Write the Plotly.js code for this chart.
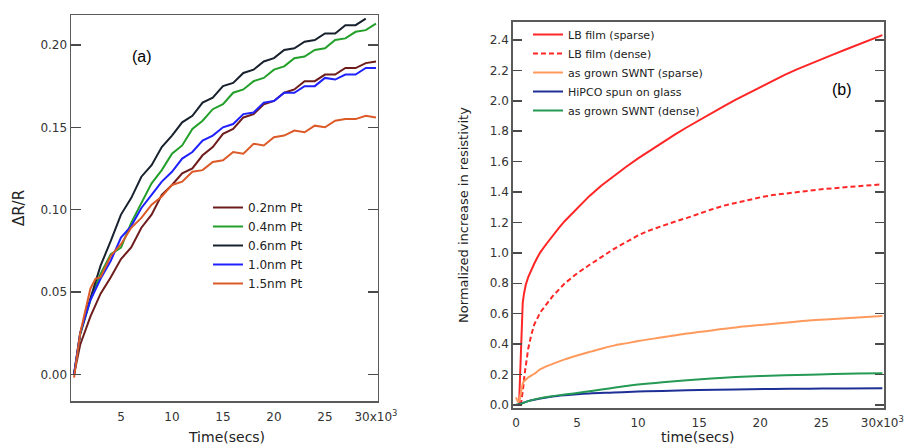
<!DOCTYPE html>
<html>
<head>
<meta charset="utf-8">
<script src="https://cdn.plot.ly/plotly-3.0.1.min.js"></script>
<style>html,body{margin:0;padding:0;background:#fff;}#chart{width:911px;height:446px;}</style>
</head>
<body>
<div id="chart"></div>
<script>
// ---------- Panel (a): ΔR/R vs time ----------
const timeA = [400,1000,2000,3000,4000,5000,6000,7000,8000,9000,10000,11000,12000,13000,14000,15000,16000,17000,18000,19000,20000,21000,22000,23000,24000,25000,26000,27000,28000,29000,30000];
const timeA06 = [400,1000,2000,3000,4000,5000,6000,7000,8000,9000,10000,11000,12000,13000,14000,15000,16000,17000,18000,19000,20000,21000,22000,23000,24000,25000,26000,27000,28000,29000];
const timeA15 = [400,1000,2000,2500,3000,4000,5000,6000,7000,8000,9000,10000,11000,12000,13000,14000,15000,16000,17000,18000,19000,20000,21000,22000,23000,24000,25000,26000,27000,28000,29000,30000];
const pt02 = [0.000,0.018,0.035,0.049,0.059,0.070,0.077,0.089,0.097,0.109,0.115,0.122,0.125,0.133,0.138,0.146,0.149,0.156,0.158,0.164,0.166,0.171,0.173,0.178,0.178,0.182,0.182,0.186,0.186,0.189,0.190];
const pt04 = [0.000,0.024,0.045,0.061,0.073,0.077,0.092,0.104,0.116,0.124,0.134,0.139,0.149,0.154,0.161,0.164,0.171,0.173,0.178,0.180,0.185,0.187,0.192,0.193,0.197,0.198,0.203,0.204,0.208,0.209,0.213];
const pt06 = [0.000,0.025,0.046,0.066,0.081,0.097,0.107,0.120,0.127,0.138,0.145,0.153,0.157,0.165,0.168,0.175,0.177,0.183,0.185,0.190,0.192,0.197,0.198,0.202,0.203,0.207,0.207,0.212,0.212,0.216];
const pt10 = [0.000,0.025,0.045,0.058,0.069,0.083,0.090,0.101,0.109,0.117,0.123,0.131,0.135,0.142,0.145,0.150,0.152,0.158,0.159,0.165,0.166,0.171,0.171,0.175,0.175,0.180,0.179,0.182,0.182,0.186,0.186];
const pt15 = [-0.002,0.025,0.052,0.058,0.059,0.072,0.079,0.089,0.095,0.103,0.108,0.115,0.117,0.123,0.124,0.129,0.130,0.135,0.134,0.140,0.139,0.144,0.145,0.148,0.147,0.151,0.150,0.154,0.155,0.155,0.157,0.156];
const namesA = ["0.2nm Pt","0.4nm Pt","0.6nm Pt","1.0nm Pt","1.5nm Pt"];
const xTickValsA = [5000,10000,15000,20000,25000,30000];
const xTickTextA = ["5","10","15","20","25","30x10<sup>3</sup>"];
const yTickValsA = [0,0.05,0.10,0.15,0.20];
const yTickTextA = ["0.00","0.05","0.10","0.15","0.20"];

// ---------- Panel (b): normalized resistivity increase ----------
const tRedSparse = [250,300,350,400,460,550,650,800,1000,1250,1500,1750,2000,2500,3000,3500,4000,5000,6000,7000,8000,9000,10000,11000,12000,13000,14000,15000,16000,17000,18000,19000,20000,21000,22000,23000,24000,25000,26000,27000,28000,29000,30000];
const redSparse = [0.00,0.12,0.30,0.45,0.58,0.67,0.73,0.79,0.84,0.89,0.93,0.97,1.005,1.06,1.113,1.162,1.21,1.293,1.373,1.443,1.505,1.565,1.621,1.675,1.727,1.778,1.826,1.873,1.919,1.964,2.008,2.05,2.09,2.131,2.171,2.207,2.241,2.273,2.305,2.337,2.368,2.40,2.432];
const tRedDense = [400,500,600,700,800,1000,1250,1500,2000,3000,4000,5000,6000,7000,8000,9000,10000,11000,12000,13000,14000,15000,16000,17000,18000,19000,20000,21000,22000,23000,24000,25000,26000,27000,28000,29000,29800];
const redDense = [0.00,0.05,0.12,0.20,0.27,0.37,0.46,0.53,0.61,0.715,0.80,0.865,0.92,0.975,1.025,1.07,1.115,1.15,1.18,1.205,1.23,1.26,1.285,1.31,1.33,1.35,1.365,1.38,1.39,1.40,1.41,1.418,1.425,1.432,1.438,1.444,1.45];
const tOrange = [0,200,400,600,1000,1500,2000,3000,4000,5000,6000,7000,8000,9000,10000,12000,14000,16000,18000,20000,22000,24000,26000,28000,30000];
const orangeSparse = [0.05,0.02,0.08,0.15,0.18,0.205,0.235,0.27,0.30,0.325,0.348,0.37,0.39,0.405,0.42,0.445,0.47,0.49,0.51,0.525,0.54,0.555,0.565,0.575,0.585];
const tHipco = [0,500,1000,2000,3000,4000,5000,6000,8000,10000,12000,15000,18000,21000,24000,27000,30000];
const hipco = [0.0,0.012,0.025,0.042,0.055,0.064,0.071,0.076,0.082,0.088,0.092,0.098,0.102,0.105,0.107,0.109,0.110];
const tGreenDense = [0,500,1000,2000,3000,4000,5000,6000,7000,8000,9000,10000,12000,14000,16000,18000,20000,22000,24000,26000,28000,30000];
const greenDense = [0,0.010,0.025,0.045,0.058,0.068,0.078,0.090,0.102,0.113,0.124,0.134,0.150,0.163,0.174,0.183,0.190,0.195,0.199,0.203,0.206,0.208];
const namesB = ["LB film (sparse)","LB film (dense)","as grown SWNT (sparse)","HiPCO spun on glass","as grown SWNT (dense)"];
const xTickValsB = [0,5000,10000,15000,20000,25000,30000];
const xTickTextB = ["0","5","10","15","20","25","30x10<sup>3</sup>"];
const yTickValsB = [0,0.2,0.4,0.6,0.8,1.0,1.2,1.4,1.6,1.8,2.0,2.2,2.4];
const yTickTextB = ["0.0","0.2","0.4","0.6","0.8","1.0","1.2","1.4","1.6","1.8","2.0","2.2","2.4"];

const W = 911, H = 446;
const px = v => v / W, py = v => 1 - v / H;

function line(x, y, name, color, legend, dash, shape) {
  const tr = {x: x, y: y, name: name, type: 'scatter', mode: 'lines',
    line: {color: color, width: 2, dash: dash || 'solid', shape: shape || 'linear'}};
  if (legend === 2) { tr.xaxis = 'x2'; tr.yaxis = 'y2'; tr.legend = 'legend2'; }
  return tr;
}

const data = [
  line(timeA, pt02, namesA[0], '#6e1c1c', 1),
  line(timeA, pt04, namesA[1], '#22a02a', 1),
  line(timeA06, pt06, namesA[2], '#18222e', 1),
  line(timeA, pt10, namesA[3], '#1f22ff', 1),
  line(timeA15, pt15, namesA[4], '#dc5a28', 1),
  line(tRedSparse, redSparse, namesB[0], '#ff2626', 2, 'solid'),
  line(tRedDense, redDense, namesB[1], '#ff2626', 2, '5px,3px'),
  line(tOrange, orangeSparse, namesB[2], '#ff9a5c', 2, 'solid', 'spline'),
  line(tHipco, hipco, namesB[3], '#1e2f96', 2, 'solid', 'spline'),
  line(tGreenDense, greenDense, namesB[4], '#249a55', 2, 'solid', 'spline')
];

const axisCommon = {
  showline: true, linecolor: '#5a5a5a', linewidth: 1.5, mirror: 'ticks',
  ticks: 'inside', ticklen: 10, tickwidth: 1.5, tickcolor: '#4a4a4a',
  showgrid: false, zeroline: false, tickmode: 'array',
  tickfont: {family: 'DejaVu Sans', size: 12, color: '#333'}
};
// x axes carrying the data and labels: transparent outside ticks push the labels down a little
const labelAxis = {
  showline: true, linecolor: '#5a5a5a', linewidth: 1.5, mirror: true,
  ticks: 'outside', tickwidth: 1, tickcolor: 'rgba(0,0,0,0)',
  showgrid: false, zeroline: false, tickmode: 'array',
  tickfont: {family: 'DejaVu Sans', size: 12, color: '#333'}
};
// overlay x axes that only draw the inside (and mirrored) ticks
const tickAxis = {
  showline: true, linecolor: '#5a5a5a', linewidth: 1.5, mirror: 'ticks',
  ticks: 'inside', ticklen: 10, tickwidth: 1.5, tickcolor: '#4a4a4a',
  showticklabels: false, showgrid: false, zeroline: false, tickmode: 'array'
};

const layout = {
  width: W, height: H, margin: {l: 0, r: 0, t: 0, b: 0},
  paper_bgcolor: '#fff', plot_bgcolor: '#fff',
  font: {family: 'DejaVu Sans', color: '#222'},
  xaxis: Object.assign({}, labelAxis, {domain: [px(71), px(377.5)], range: [100, 30150], anchor: 'y',
    tickvals: xTickValsA, ticktext: xTickTextA, ticklen: 4}),
  xaxis3: Object.assign({}, tickAxis, {overlaying: 'x', anchor: 'y', range: [100, 30150],
    tickvals: xTickValsA}),
  yaxis: Object.assign({}, axisCommon, {domain: [py(401), py(15)], range: [-0.0162, 0.2182], anchor: 'x',
    tickvals: yTickValsA, ticktext: yTickTextA,
    title: {text: 'ΔR/R', font: {size: 15, color: '#222'}, standoff: 12}}),
  xaxis2: Object.assign({}, labelAxis, {domain: [px(512.7), px(884.3)], range: [-270, 30160], anchor: 'y2',
    tickvals: xTickValsB, ticktext: xTickTextB, ticklen: 3}),
  xaxis4: Object.assign({}, tickAxis, {overlaying: 'x2', anchor: 'y2', range: [-270, 30160],
    tickvals: xTickValsB}),
  yaxis2: Object.assign({}, axisCommon, {domain: [py(408.3), py(21.7)], range: [-0.022, 2.52], anchor: 'x2',
    tickvals: yTickValsB, ticktext: yTickTextB, ticklen: 9,
    title: {text: 'Normalized increase in resistivity', font: {size: 13, color: '#222'}, standoff: 18}}),
  legend: {x: px(208), y: py(193), xanchor: 'left', yanchor: 'top', bgcolor: 'rgba(0,0,0,0)',
    font: {family: 'DejaVu Sans', size: 12, color: '#222'}},
  legend2: {x: px(528), y: py(20), xanchor: 'left', yanchor: 'top', bgcolor: 'rgba(0,0,0,0)',
    font: {family: 'DejaVu Sans', size: 11, color: '#222'}},
  annotations: [
    {text: 'Time(secs)', xref: 'paper', yref: 'paper', x: px(226), y: py(437), xanchor: 'center', yanchor: 'middle', showarrow: false,
      font: {family: 'DejaVu Sans', size: 14, color: '#222'}},
    {text: 'time(secs)', xref: 'paper', yref: 'paper', x: px(697), y: py(437), xanchor: 'center', yanchor: 'middle', showarrow: false,
      font: {family: 'DejaVu Sans', size: 14, color: '#222'}},
    {text: '(a)', xref: 'paper', yref: 'paper', x: px(142), y: py(56), xanchor: 'center', yanchor: 'middle', showarrow: false,
      font: {family: 'Liberation Sans', size: 16, color: '#000'}},
    {text: '(b)', xref: 'paper', yref: 'paper', x: px(842), y: py(89), xanchor: 'center', yanchor: 'middle', showarrow: false,
      font: {family: 'Liberation Sans', size: 16, color: '#000'}}
  ],
  showlegend: true
};

Plotly.newPlot('chart', data, layout, {displayModeBar: false, staticPlot: true});
</script>
</body>
</html>
